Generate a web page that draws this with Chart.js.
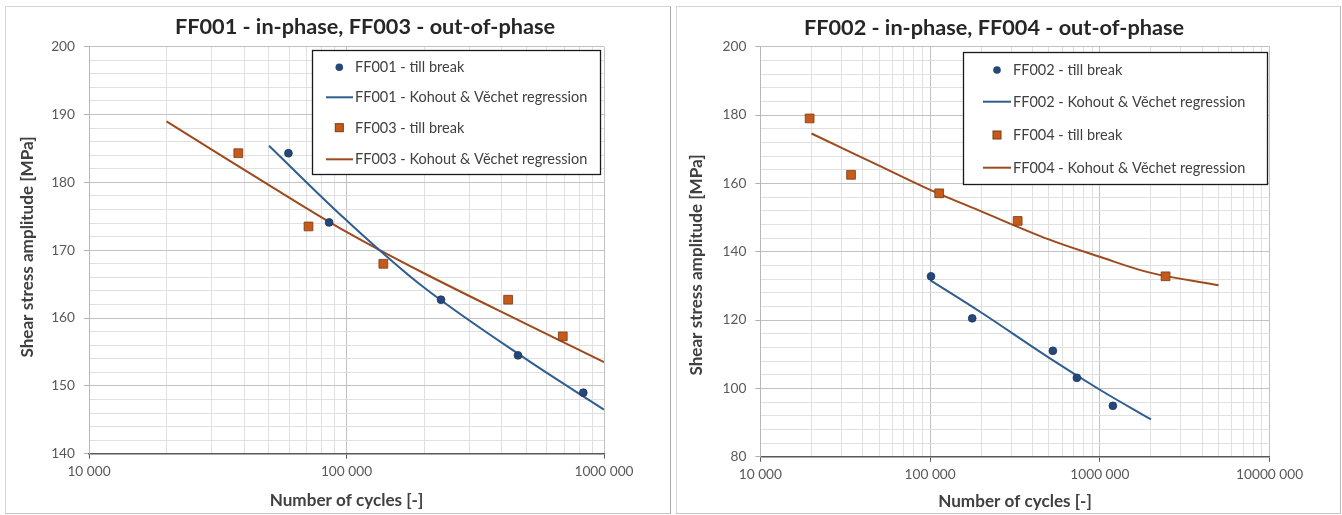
<!DOCTYPE html>
<html>
<head>
<meta charset="utf-8">
<script src="https://cdn.jsdelivr.net/npm/chart.js@4.4.1/dist/chart.umd.min.js"></script>
<style>
  html, body { margin: 0; padding: 0; background: #fff; }
  body { width: 1342px; height: 515px; position: relative; overflow: hidden; }
  .frame { position: absolute; box-sizing: border-box; border: 1px solid #d6d6d6; background: #fff; }
  #frameA { left: 5px; top: 6px; width: 666px; height: 508px; border-right-color: #a8a8a8; border-bottom-color: #c4c4c4; }
  #frameB { left: 676px; top: 6px; width: 665px; height: 508px; border-right-color: #b8b8b8; border-bottom-color: #c4c4c4; }
  canvas { display: block; }
</style>
</head>
<body>
<div class="frame" id="frameA"><canvas id="chartA" width="664" height="506"></canvas></div>
<div class="frame" id="frameB"><canvas id="chartB" width="663" height="506"></canvas></div>
<script>
// ---------- FF001 / FF003 ----------
const ff001Cycles = [59500, 85600, 232800, 463500, 831000];
const ff001Stress = [184.3, 174.1, 162.7, 154.5, 149.0];
const ff001RegCycles = [50000, 100000, 200000, 500000, 1000000];
const ff001RegStress = [185.4, 174.4, 164.5, 153.9, 146.5];

const ff003Cycles = [38000, 71200, 139000, 424300, 691800];
const ff003Stress = [184.3, 173.5, 168.0, 162.7, 157.3];
const ff003RegCycles = [20000, 50000, 100000, 200000, 500000, 1000000];
const ff003RegStress = [189.0, 179.6, 172.7, 166.6, 159.1, 153.5];

// ---------- FF002 / FF004 ----------
const ff002Cycles = [101200, 177000, 528700, 731900, 1193000];
const ff002Stress = [132.8, 120.5, 111.0, 103.1, 94.9];
const ff002RegCycles = [100000, 200000, 500000, 1000000, 2000000];
const ff002RegStress = [131.7, 122.2, 109.0, 99.6, 90.9];

const ff004Cycles = [19500, 34200, 113100, 327900, 2438000];
const ff004Stress = [179.0, 162.5, 157.1, 149.0, 132.8];
const ff004RegCycles = [20000, 50000, 100000, 200000, 500000, 1000000, 2000000, 5000000];
const ff004RegStress = [174.6, 165.2, 158.1, 151.8, 143.6, 138.5, 133.8, 130.2];

// ---------- axis ticks ----------
const xDecadesA = [10000, 100000, 1000000];
const xTickLabelsA = ['10 000', '100 000', '1000 000'];
const xDecadesB = [10000, 100000, 1000000, 10000000];
const xTickLabelsB = ['10 000', '100 000', '1000 000', '10000 000'];
const yTicksA = [140, 150, 160, 170, 180, 190, 200];
const yTicksB = [80, 100, 120, 140, 160, 180, 200];

const titleA = 'FF001 - in-phase, FF003 - out-of-phase';
const titleB = 'FF002 - in-phase, FF004 - out-of-phase';
const xTitle = 'Number of cycles [-]';
const yTitle = 'Shear stress amplitude [MPa]';

const BLUE_FILL = '#25477a';
const BLUE_EDGE = '#1c3660';
const BLUE_LINE = '#2f5e90';
const ORANGE_FILL = '#c65a1a';
const ORANGE_EDGE = '#7a3a12';
const BROWN_LINE = '#9e4a1c';
const FONT = 'Lato';

const pts = (xs, ys) => xs.map((x, i) => ({ x, y: ys[i] }));

// font size (px) that gives a string the wanted width
const measureCtx = document.createElement('canvas').getContext('2d');
function sizeForWidth(text, weight, width) {
  measureCtx.font = `${weight} 100px ${FONT}`;
  return Math.round(100 * width / measureCtx.measureText(text).width * 10) / 10;
}

// every 1..9 multiple inside the decades, for log gridlines
function logGrid(decades) {
  const out = [];
  for (let d = 0; d < decades.length - 1; d++) {
    for (let m = 1; m <= 9; m++) out.push(decades[d] * m);
  }
  out.push(decades[decades.length - 1]);
  return out;
}
function linGrid(min, max, step) {
  const out = [];
  for (let v = min; v <= max + 1e-9; v += step) out.push(Math.round(v * 1000) / 1000);
  return out;
}

const headingPlugin = {
  id: 'chartHeading',
  afterDraw(chart, args, o) {
    const ctx = chart.ctx;
    ctx.save();
    ctx.fillStyle = '#262626';
    ctx.textAlign = 'center';
    ctx.textBaseline = 'alphabetic';
    ctx.font = `bold ${o.size}px ${FONT}`;
    ctx.fillText(o.text, o.x, o.y);
    // vertical axis caption
    ctx.fillStyle = '#404040';
    ctx.font = `bold ${o.ySize}px ${FONT}`;
    ctx.textBaseline = 'middle';
    ctx.translate(o.yx, o.yy);
    ctx.rotate(-Math.PI / 2);
    ctx.fillText(o.yText, 0, 0);
    ctx.restore();
  }
};

const legendPlugin = {
  id: 'boxLegend',
  afterDraw(chart, args, o) {
    const ctx = chart.ctx;
    ctx.save();
    ctx.fillStyle = '#ffffff';
    ctx.fillRect(o.left, o.top, o.width, o.height);
    ctx.strokeStyle = '#1a1a1a';
    ctx.lineWidth = 1.3;
    ctx.strokeRect(o.left + 0.5, o.top + 0.5, o.width, o.height);
    ctx.font = `${o.fontSize}px ${FONT}`;
    ctx.textBaseline = 'middle';
    ctx.textAlign = 'left';
    chart.data.datasets.forEach((ds, i) => {
      const y = o.rows[i];
      if (ds.showLine) {
        ctx.strokeStyle = ds.borderColor;
        ctx.lineWidth = ds.borderWidth;
        ctx.beginPath();
        ctx.moveTo(o.lineX0, y);
        ctx.lineTo(o.lineX1, y);
        ctx.stroke();
      } else if (ds.pointStyle === 'rect') {
        ctx.fillStyle = ds.backgroundColor;
        ctx.strokeStyle = ds.borderColor;
        ctx.lineWidth = 1;
        ctx.fillRect(o.markX - 4, y - 4, 8, 8);
        ctx.strokeRect(o.markX - 4, y - 4, 8, 8);
      } else {
        ctx.fillStyle = ds.backgroundColor;
        ctx.beginPath();
        ctx.arc(o.markX, y, 3.8, 0, Math.PI * 2);
        ctx.fill();
      }
      ctx.fillStyle = '#404040';
      ctx.fillText(ds.label, o.textX, y + 0.5);
    });
    ctx.restore();
  }
};

function datasets(nameA, cA, sA, rcA, rsA, nameB, cB, sB, rcB, rsB) {
  return [
    { label: nameA + ' - till break', data: pts(cA, sA), pointStyle: 'circle', pointRadius: 3.9,
      backgroundColor: BLUE_FILL, borderColor: BLUE_EDGE, borderWidth: 0.8, showLine: false },
    { label: nameA + ' - Kohout & Věchet regression', data: pts(rcA, rsA), showLine: true, pointRadius: 0,
      borderColor: BLUE_LINE, backgroundColor: BLUE_LINE, borderWidth: 2, tension: 0.35 },
    { label: nameB + ' - till break', data: pts(cB, sB), pointStyle: 'rect', pointRadius: 6.2,
      backgroundColor: ORANGE_FILL, borderColor: ORANGE_EDGE, borderWidth: 0.8, showLine: false },
    { label: nameB + ' - Kohout & Věchet regression', data: pts(rcB, rsB), showLine: true, pointRadius: 0,
      borderColor: BROWN_LINE, backgroundColor: BROWN_LINE, borderWidth: 2, tension: 0.35 }
  ];
}

function makeChart(id, cfg, sizes) {
  const isDecade = v => Math.abs(Math.log10(v) - Math.round(Math.log10(v))) < 1e-9;
  const isMajorY = v => cfg.yLabelled.includes(v);
  const canvasH = 506;
  const xTitleLH = sizes.axis * 1.2;
  const xTitlePad = Math.max(0, (canvasH - cfg.xTitleCenter) - xTitleLH / 2);
  return new Chart(document.getElementById(id), {
    type: 'scatter',
    data: { datasets: cfg.datasets },
    options: {
      responsive: false,
      animation: false,
      devicePixelRatio: 1,
      layout: { padding: { top: cfg.padTop, right: cfg.padRight, bottom: 0, left: 0 } },
      plugins: {
        legend: { display: false },
        tooltip: { enabled: false },
        chartHeading: Object.assign({ size: sizes.title, ySize: sizes.axis, yText: yTitle }, cfg.heading),
        boxLegend: Object.assign({ fontSize: sizes.legend }, cfg.legend)
      },
      scales: {
        x: {
          type: 'logarithmic',
          min: cfg.xDecades[0],
          max: cfg.xDecades[cfg.xDecades.length - 1],
          afterBuildTicks: s => { s.ticks = logGrid(cfg.xDecades).map(value => ({ value })); },
          afterFit: s => { s.height = cfg.xHeight; },
          ticks: {
            autoSkip: false, maxRotation: 0, minRotation: 0, padding: cfg.xTickPad,
            color: '#595959', font: { family: FONT, size: sizes.tick },
            callback: v => {
              const k = cfg.xDecades.indexOf(v);
              return k >= 0 ? cfg.xLabels[k] : '';
            }
          },
          grid: {
            color: c => isDecade(c.tick.value) ? '#c2c2c2' : '#e0e0e0',
            lineWidth: 1,
            tickLength: 5,
            tickColor: c => isDecade(c.tick.value) ? '#595959' : 'rgba(0,0,0,0)'
          },
          border: { color: '#595959', width: 1.6 },
          title: {
            display: true, text: xTitle, color: '#404040',
            font: { family: FONT, size: sizes.axis, weight: 'bold' },
            padding: { top: 0, bottom: xTitlePad }
          }
        },
        y: {
          type: 'linear',
          min: cfg.yMin, max: cfg.yMax,
          afterBuildTicks: s => { s.ticks = linGrid(cfg.yMin, cfg.yMax, cfg.yStep).map(value => ({ value })); },
          afterFit: s => { s.width = cfg.yWidth; },
          ticks: {
            autoSkip: false, padding: 9, color: '#595959', font: { family: FONT, size: sizes.tick },
            callback: v => isMajorY(v) ? String(v) : ''
          },
          grid: {
            color: c => isMajorY(c.tick.value) ? '#c2c2c2' : '#e0e0e0',
            lineWidth: 1,
            tickLength: 5,
            tickColor: c => isMajorY(c.tick.value) ? '#b0b0b0' : 'rgba(0,0,0,0)'
          },
          border: { color: '#b8b8b8', width: 1 },
          title: { display: false }
        }
      }
    },
    plugins: [headingPlugin, legendPlugin]
  });
}

function build() {
  const sizes = {
    title: sizeForWidth(titleA, 'bold', 380),
    axis: sizeForWidth(xTitle, 'bold', 154),
    legend: sizeForWidth('FF001 - Kohout & Věchet regression', 'normal', 233),
    tick: sizeForWidth('1000 000', 'normal', 59)
  };
  makeChart('chartA', {
    datasets: datasets('FF001', ff001Cycles, ff001Stress, ff001RegCycles, ff001RegStress,
                       'FF003', ff003Cycles, ff003Stress, ff003RegCycles, ff003RegStress),
    xDecades: xDecadesA, xLabels: xTickLabelsA,
    yMin: 140, yMax: 200, yStep: 2, yLabelled: yTicksA,
    padTop: 39.7, padRight: 66, yWidth: 83, xHeight: 59.3,
    xTickPad: 5, xTitleCenter: 493,
    heading: { text: titleA, x: 359, y: 27.3, yx: 21, yy: 240 },
    legend: { left: 306, top: 43, width: 288, height: 124, rows: [60.3, 90.3, 120.7, 152.3],
              markX: 333.3, lineX0: 320, lineX1: 347, textX: 349 }
  }, sizes);
  makeChart('chartB', {
    datasets: datasets('FF002', ff002Cycles, ff002Stress, ff002RegCycles, ff002RegStress,
                       'FF004', ff004Cycles, ff004Stress, ff004RegCycles, ff004RegStress),
    xDecades: xDecadesB, xLabels: xTickLabelsB,
    yMin: 80, yMax: 200, yStep: 4, yLabelled: yTicksB,
    padTop: 39.7, padRight: 70.4, yWidth: 83.4, xHeight: 56.3,
    xTickPad: 5, xTitleCenter: 494.7,
    heading: { text: titleB, x: 317, y: 28, yx: 19, yy: 258 },
    legend: { left: 286, top: 45, width: 304, height: 132, rows: [63, 94.7, 128, 160.7],
              markX: 320, lineX0: 306, lineX1: 334, textX: 336 }
  }, sizes);
}

if (document.fonts && document.fonts.load) {
  Promise.all([
    document.fonts.load(`14px ${FONT}`),
    document.fonts.load(`bold 18px ${FONT}`)
  ]).then(build, build);
} else {
  build();
}
</script>
</body>
</html>
